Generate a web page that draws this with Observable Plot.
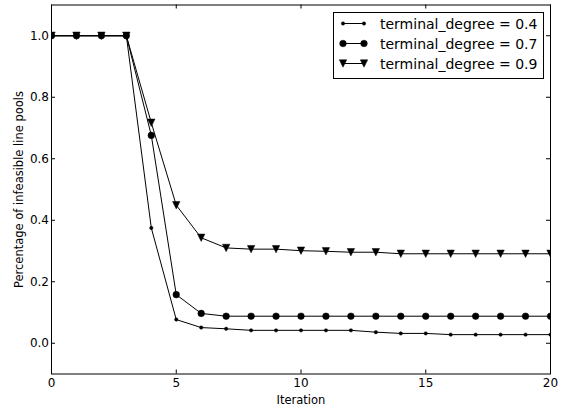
<!DOCTYPE html>
<html>
<head>
<meta charset="utf-8">
<script src="https://cdn.jsdelivr.net/npm/d3@7"></script>
<script src="https://cdn.jsdelivr.net/npm/@observablehq/plot@0.6"></script>
<style>
  html, body { margin: 0; padding: 0; background: #fff; }
  #wrap { position: relative; width: 567px; height: 410px; }
  #legend { position: absolute; left: 332.5px; top: 12px; width: 211px; height: 66.5px;
            border: 1px solid #000; box-sizing: border-box; background: #fff; }
  #legend svg { display: block; }
</style>
</head>
<body>
<div id="wrap">
  <div id="chart"></div>
  <div id="legend"></div>
</div>
<script>
// ---- data ----
const iterations = [0,1,2,3,4,5,6,7,8,9,10,11,12,13,14,15,16,17,18,19,20];
const degree04 = [1,1,1,1,0.375,0.077,0.051,0.047,0.042,0.042,0.042,0.042,0.042,0.036,0.032,0.032,0.028,0.028,0.028,0.028,0.028];
const degree07 = [1,1,1,1,0.676,0.158,0.097,0.088,0.088,0.088,0.088,0.088,0.088,0.088,0.088,0.088,0.088,0.088,0.088,0.088,0.088];
const degree09 = [1,1,1,1,0.717,0.449,0.343,0.310,0.306,0.306,0.301,0.299,0.296,0.296,0.291,0.291,0.291,0.291,0.291,0.291,0.291];
const seriesLabels = ["terminal_degree = 0.4", "terminal_degree = 0.7", "terminal_degree = 0.9"];
const xTicks = [0,5,10,15,20];
const yTicks = [0,0.2,0.4,0.6,0.8,1.0];
const xLabel = "Iteration";
const yLabel = "Percentage of infeasible line pools";

// ---- layout ----
const W = 567, H = 410;
const mL = 51, mR = 17, mT = 4.5, mB = 36.5;
const innerW = W - mL - mR, innerH = H - mT - mB;
const tickLen = 4;
const font = "DejaVu Sans";

// triangle-down symbol centred on its bounding box (like matplotlib 'v')
const triDown = {
  draw(ctx, size) {
    const h = Math.sqrt(size / Math.PI);
    ctx.moveTo(-h, -h);
    ctx.lineTo(h, -h);
    ctx.lineTo(0, h);
    ctx.closePath();
  }
};

const styles = [
  {symbol: "circle", r: 1.7},
  {symbol: "circle", r: 3.3},
  {symbol: triDown, r: 3.7}
];

const tables = [degree04, degree07, degree09].map(vals =>
  iterations.map((x, i) => ({x, y: vals[i]})));

const marks = [];
tables.forEach((t, i) => {
  marks.push(Plot.line(t, {x: "x", y: "y", stroke: "black", strokeWidth: 1, clip: "frame"}));
  marks.push(Plot.dot(t, {x: "x", y: "y", symbol: () => styles[i].symbol, r: styles[i].r,
    fill: "black", stroke: "black", strokeWidth: 0.5, clip: "frame"}));
});
marks.push(
  Plot.tickX(xTicks, {x: d => d, insetTop: innerH - tickLen, stroke: "black"}),
  Plot.tickX(xTicks, {x: d => d, insetBottom: innerH - tickLen, stroke: "black"}),
  Plot.tickY(yTicks, {y: d => d, insetRight: innerW - tickLen, stroke: "black"}),
  Plot.tickY(yTicks, {y: d => d, insetLeft: innerW - tickLen, stroke: "black"}),
  Plot.frame({stroke: "black"}),
  Plot.axisX(xTicks, {tickSize: 0, tickPadding: 4.7, fontSize: 12, label: null, tickFormat: d => String(d)}),
  Plot.axisY(yTicks, {tickSize: 0, tickPadding: 2.5, fontSize: 12, label: null, tickFormat: d => d.toFixed(1)}),
  Plot.text([xLabel], {text: d => d, frameAnchor: "bottom", textAnchor: "middle", lineAnchor: "middle",
    dy: 25.9, fontSize: 11.5, fill: "black"}),
  Plot.text([yLabel], {text: d => d, frameAnchor: "left", textAnchor: "middle", lineAnchor: "middle",
    rotate: -90, dx: -31.7, fontSize: 11.5, fill: "black"})
);

const chart = Plot.plot({
  width: W, height: H,
  marginLeft: mL, marginRight: mR, marginTop: mT, marginBottom: mB,
  x: {domain: [0, 20]},
  y: {domain: [-0.1, 1.1]},
  style: {fontFamily: font, background: "white", color: "black", overflow: "visible"},
  marks
});
document.getElementById("chart").appendChild(chart);

// ---- legend ----
const lg = d3.select("#legend").append("svg").attr("width", 209).attr("height", 64.5)
  .style("font-family", font).style("font-size", "14px");
const rowY = [10.5, 30.5, 50.5];
seriesLabels.forEach((lab, i) => {
  const g = lg.append("g").attr("transform", `translate(0,${rowY[i]})`);
  g.append("line").attr("x1", 9).attr("x2", 30).attr("y1", 0).attr("y2", 0)
    .attr("stroke", "black").attr("stroke-width", 1);
  const sym = d3.symbol().type(styles[i].symbol === "circle" ? d3.symbolCircle : styles[i].symbol)
    .size(styles[i].r * styles[i].r * Math.PI);
  [9, 30].forEach(px => g.append("path").attr("d", sym()).attr("transform", `translate(${px},0)`)
    .attr("fill", "black").attr("stroke", "black").attr("stroke-width", 0.5));
  g.append("text").attr("x", 46).attr("y", 0).attr("dy", "0.36em").attr("fill", "black").text(lab);
});
</script>
</body>
</html>
